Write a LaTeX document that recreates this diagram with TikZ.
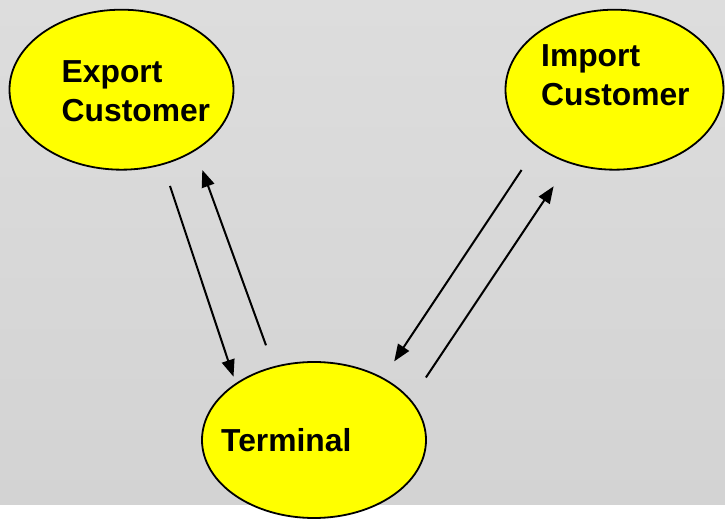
\documentclass[tikz,border=0pt]{standalone}
\usepackage{fontspec}
\setmainfont{Liberation Sans}
\usetikzlibrary{arrows.meta,shapes.geometric}

\definecolor{panelTop}{RGB}{221,221,221}
\definecolor{panelBottom}{RGB}{211,211,211}
\definecolor{partyFill}{RGB}{255,255,0}

\tikzset{
  party/.style={ellipse, draw=black, line width=1.8pt, fill=partyFill,
    inner sep=0pt, minimum width=#1},
  lbl/.style={anchor=base west, inner sep=0pt, font=\fontsize{31.8}{38}\selectfont\bfseries},
  flow/.style={line width=2pt, -{Triangle[length=17pt,width=13pt]}},
}

\begin{document}
\begin{tikzpicture}[x=1pt,y=1pt]
  \useasboundingbox (0,0) rectangle (725,519);
  % grey backdrop, white strip underneath
  \fill[white] (0,0) rectangle (725,519);
  \shade[top color=panelTop, bottom color=panelBottom] (0,14) rectangle (725,519);

  % the three parties
  \node[party=224pt, minimum height=160pt] (export) at (121.5,429.3) {};
  \node[party=218pt, minimum height=160pt] (import) at (614.5,429.3) {};
  \node[party=224pt, minimum height=156pt] (terminal) at (314,79) {};

  % labels
  \node[lbl] (exportA) at (61.5,436.3) {Export};
  \node[lbl] (exportB) at (61.5,397.3) {Customer};
  \node[lbl] (importA) at (541,452.3) {Import};
  \node[lbl] (importB) at (541,413) {Customer};
  \node[lbl] (terminalA) at (221,67.3) {Terminal};

  % arrow end points
  \coordinate (exOut) at (170,333);
  \coordinate (exIn) at (233.5,142.3);
  \coordinate (exBack) at (266,173.7);
  \coordinate (exTip) at (202.3,349);
  \coordinate (imOut) at (521.6,349);
  \coordinate (imIn) at (394.2,157.6);
  \coordinate (imBack) at (425.9,141.5);
  \coordinate (imTip) at (553.6,332.7);

  % flows between the parties
  \draw[flow] (exOut) -- (exIn);
  \draw[flow] (exBack) -- (exTip);
  \draw[flow] (imOut) -- (imIn);
  \draw[flow] (imBack) -- (imTip);
\end{tikzpicture}
\end{document}
